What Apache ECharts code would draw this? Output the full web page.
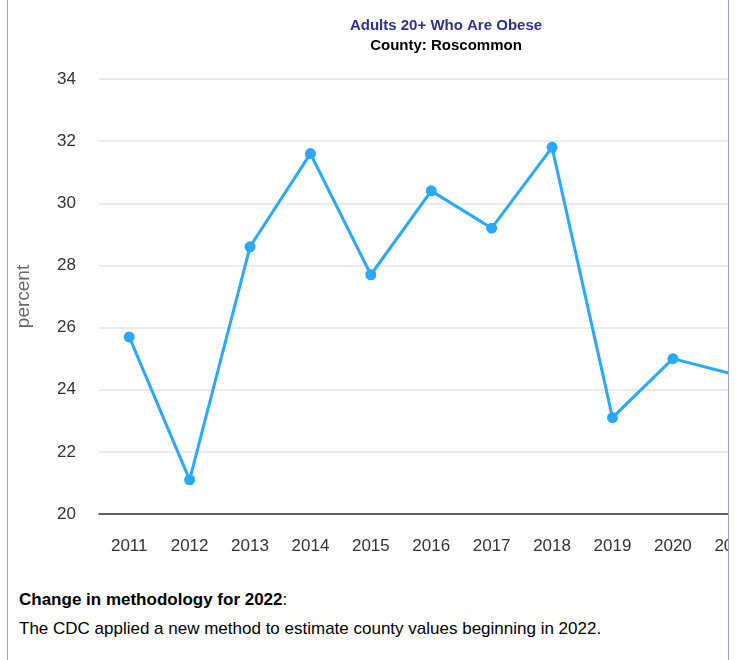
<!DOCTYPE html>
<html>
<head>
<meta charset="utf-8">
<script src="https://cdn.jsdelivr.net/npm/echarts@6/dist/echarts.min.js"></script>
<style>
  html, body { margin: 0; padding: 0; background: #fff; width: 739px; height: 660px; overflow: hidden; }
  #box { position: absolute; left: 7px; top: 0; width: 720px; height: 660px;
         border-left: 1px solid #9aa0e0; border-right: 1px solid #9aa0e0; overflow: hidden; }
  #chart { position: absolute; left: 0; top: 0; width: 800px; height: 575px; }
  #note { position: absolute; left: 11px; top: 585px; font-family: "Liberation Sans", Arial, sans-serif;
          font-size: 17px; color: #000; line-height: 29px; white-space: nowrap; }
</style>
</head>
<body>
<div id="box">
  <div id="chart"></div>
  <div id="note"><b>Change in methodology for 2022</b>:<br>The CDC applied a new method to estimate county values beginning in 2022.</div>
</div>
<script>
const years = ['2011','2012','2013','2014','2015','2016','2017','2018','2019','2020','2021'];
const obesePct = [25.7, 21.1, 28.6, 31.6, 27.7, 30.4, 29.2, 31.8, 23.1, 25.0, 24.5];
const titleText = 'Adults 20+ Who Are Obese';
const subtitleText = 'County: Roscommon';
const yAxisName = 'percent';

const chart = echarts.init(document.getElementById('chart'));
chart.setOption({
  animation: false,
  title: {
    text: titleText,
    subtext: subtitleText,
    left: 433,
    textAlign: 'center',
    top: 13,
    itemGap: 5,
    textStyle: { fontFamily: 'Liberation Sans', fontSize: 15, fontWeight: 'bold', color: '#2E3192' },
    subtextStyle: { fontFamily: 'Liberation Sans', fontSize: 15, fontWeight: 'bold', color: '#000' }
  },
  grid: { left: 91, top: 79, width: 664.5, height: 435, containLabel: false, outerBoundsMode: 'none' },
  xAxis: {
    type: 'category',
    data: years,
    boundaryGap: true,
    axisLine: { show: true, lineStyle: { color: '#333', width: 1.5 } },
    axisTick: { show: false },
    axisLabel: { fontFamily: 'Liberation Sans', fontSize: 17, color: '#333', margin: 24 },
    splitLine: { show: false }
  },
  yAxis: {
    type: 'value',
    min: 20, max: 34, interval: 2,
    name: yAxisName,
    nameLocation: 'middle',
    nameGap: 66,
    nameTextStyle: { fontFamily: 'Liberation Sans', fontSize: 19, color: '#666' },
    axisLine: { show: false },
    axisTick: { show: false },
    axisLabel: { fontFamily: 'Liberation Sans', fontSize: 17, color: '#333', margin: 23 },
    splitLine: { lineStyle: { color: '#e4e4e4', width: 1.5 } }
  },
  series: [{
    type: 'line',
    data: obesePct,
    symbol: 'circle',
    symbolSize: 11,
    lineStyle: { color: '#2AA9FB', width: 3 },
    itemStyle: { color: '#2AA9FB' }
  }]
});
</script>
</body>
</html>
